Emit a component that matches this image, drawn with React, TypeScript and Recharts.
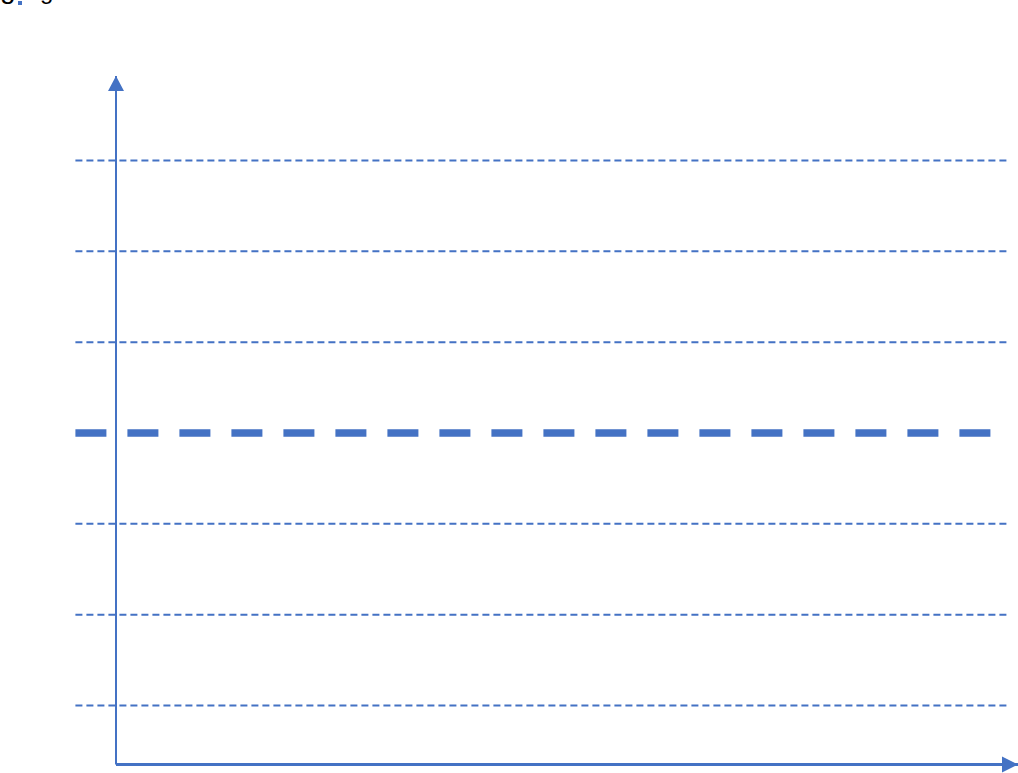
import React from 'react';
import { ComposedChart, XAxis, YAxis, ReferenceLine, ReferenceDot } from 'recharts';

const BLUE = '#4472C4';

// Axis domains (x is a 0–100 scale along the horizontal axis; y levels are the dashed guide levels)
const xDomain: [number, number] = [0, 100];
const yDomain: [number, number] = [0.35, 7.93];

// Dashed guide levels
const thinLevels = [1, 2, 3, 5, 6, 7];
const thickLevels = [4];

// Horizontal extent of the guide lines (in x-axis units)
const guideStart = -4.5;
const guideEnd = 98.9;

// Clipped caption fragments at top
const captionParts = ['g', 'g'];

const YArrow = (props: any) => {
  const { cx, cy } = props;
  return <polygon points={`${cx},${cy} ${cx - 8},${cy + 15} ${cx + 8},${cy + 15}`} fill={BLUE} />;
};

const XArrow = (props: any) => {
  const { cx, cy } = props;
  return <polygon points={`${cx},${cy} ${cx - 16},${cy - 8} ${cx - 16},${cy + 8}`} fill={BLUE} />;
};

export default function App() {
  return (
    <div style={{ position: 'absolute', left: 0, top: 0, width: 1018, height: 773, background: '#fff' }}>
      <svg width={1018} height={30} style={{ position: 'absolute', left: 0, top: 0 }}>
        <text x={0} y={-2} fontFamily="Liberation Sans, Arial, sans-serif" fontSize={28} fill="#000">{captionParts[0]}</text>
        <rect x={18} y={1} width={4} height={4} fill={BLUE} />
        <text x={40} y={-1} fontFamily="Liberation Sans, Arial, sans-serif" fontSize={24} fill="#000">{captionParts[1]}</text>
      </svg>
      <ComposedChart
        width={1018}
        height={773}
        margin={{ top: 76, right: 0, bottom: 8.5, left: 116 }}
        style={{ position: 'absolute', left: 0, top: 0 }}
      >
        <XAxis type="number" dataKey="x" domain={xDomain} hide allowDataOverflow />
        <YAxis type="number" dataKey="y" domain={yDomain} hide allowDataOverflow />
        {thinLevels.map((v) => (
          <ReferenceLine
            key={`thin-${v}`}
            segment={[{ x: guideStart, y: v }, { x: guideEnd, y: v }]}
            stroke={BLUE}
            strokeWidth={2}
            strokeDasharray="7 4"
            ifOverflow="visible"
          />
        ))}
        {thickLevels.map((v) => (
          <ReferenceLine
            key={`thick-${v}`}
            segment={[{ x: guideStart, y: v }, { x: guideEnd, y: v }]}
            stroke={BLUE}
            strokeWidth={7.5}
            strokeDasharray="31 21"
            ifOverflow="visible"
          />
        ))}
        <ReferenceLine x={xDomain[0]} stroke={BLUE} strokeWidth={2} ifOverflow="visible" />
        <ReferenceLine y={yDomain[0]} stroke={BLUE} strokeWidth={3} ifOverflow="visible" />
        <ReferenceDot x={xDomain[0]} y={yDomain[1]} shape={YArrow} ifOverflow="visible" />
        <ReferenceDot x={xDomain[1]} y={yDomain[0]} shape={XArrow} ifOverflow="visible" />
      </ComposedChart>
    </div>
  );
}
